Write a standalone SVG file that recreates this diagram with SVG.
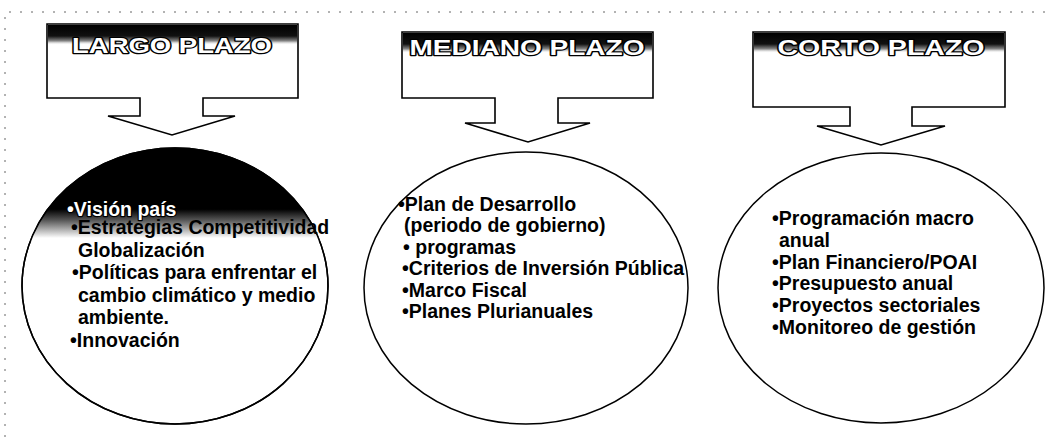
<svg xmlns="http://www.w3.org/2000/svg" width="1045" height="437" viewBox="0 0 1045 437">
<style>
.shape{fill:#fff;stroke:#000;stroke-width:1.6;stroke-linejoin:miter}
.oval{fill:#fff;stroke:#000;stroke-width:1.5}
.hdr{font-family:"Liberation Sans",Arial,sans-serif;font-weight:bold;font-size:22px;fill:#fff;stroke:#000;stroke-width:2.6;paint-order:stroke fill;stroke-linejoin:round}
.body{font-family:"Liberation Sans",Arial,sans-serif;font-weight:bold;font-size:19.5px;fill:#000}
.inv{fill:#fff;stroke:#000;stroke-width:2.4;paint-order:stroke fill;stroke-linejoin:round}
.frame{fill:none;stroke:#666;stroke-width:1;stroke-dasharray:2 9}
</style>
<defs>
<linearGradient id="band" x1="0" y1="0" x2="0" y2="1">
<stop offset="0" stop-color="#000"/>
<stop offset="0.55" stop-color="#111"/>
<stop offset="0.8" stop-color="#888"/>
<stop offset="1" stop-color="#fff" stop-opacity="0"/>
</linearGradient>
<linearGradient id="cap" gradientUnits="userSpaceOnUse" x1="0" y1="148" x2="0" y2="238">
<stop offset="0" stop-color="#000"/>
<stop offset="0.68" stop-color="#000"/>
<stop offset="0.8" stop-color="#555"/>
<stop offset="1" stop-color="#fff"/>
</linearGradient>
<clipPath id="clip1"><ellipse cx="175" cy="286" rx="153" ry="138"/></clipPath>
</defs>

<path class="frame" d="M5 437 V12 H1045"/>

<g id="connectors"></g>

<g id="largo">
<path class="shape" d="M47 24 H298 V98 H203 V116 H235 L172 135 L108 116 H140 V98 H47 Z"/>
<rect x="48" y="25" width="249" height="20" fill="url(#band)"/>
<text class="hdr" x="172" y="53" text-anchor="middle" textLength="200" lengthAdjust="spacingAndGlyphs">LARGO PLAZO</text>
</g>

<g id="mediano">
<path class="shape" d="M402 32 H653 V98 H558 V123 H590 L528 142 L465 123 H495 V98 H402 Z"/>
<rect x="403" y="33" width="249" height="20" fill="url(#band)"/>
<text class="hdr" x="527" y="55" text-anchor="middle" textLength="235" lengthAdjust="spacingAndGlyphs">MEDIANO PLAZO</text>
</g>

<g id="corto">
<path class="shape" d="M753 32 H1005 V107 H912 V126 H945 L881 145 L817 126 H850 V107 H753 Z"/>
<rect x="754" y="33" width="250" height="20" fill="url(#band)"/>
<text class="hdr" x="881" y="55" text-anchor="middle" textLength="207" lengthAdjust="spacingAndGlyphs">CORTO PLAZO</text>
</g>

<g id="oval-largo">
<ellipse class="oval" cx="175" cy="286" rx="153" ry="138"/>
<rect x="20" y="146" width="312" height="95" fill="url(#cap)" clip-path="url(#clip1)"/>
<ellipse cx="175" cy="286" rx="153" ry="138" fill="none" stroke="#000" stroke-width="1.5"/>
<text class="body inv" x="67" y="216">•Visión país</text>
<text class="body" x="71" y="234">•Estrategias Competitividad</text>
<text class="body" x="78" y="257">Globalización</text>
<text class="body" x="72" y="279">•Políticas para enfrentar el</text>
<text class="body" x="78" y="302">cambio climático y medio</text>
<text class="body" x="78" y="324">ambiente.</text>
<text class="body" x="70" y="347">•Innovación</text>
</g>

<g id="oval-mediano">
<ellipse class="oval" cx="526" cy="288" rx="162" ry="136"/>
<text class="body" x="398" y="211">•Plan de Desarrollo</text>
<text class="body" x="404" y="232">(periodo de gobierno)</text>
<text class="body" x="403" y="254">• programas</text>
<text class="body" x="402" y="275">•Criterios de Inversión Pública</text>
<text class="body" x="402" y="297">•Marco Fiscal</text>
<text class="body" x="402" y="318">•Planes Plurianuales</text>
</g>

<g id="oval-corto">
<ellipse class="oval" cx="881" cy="288" rx="163" ry="135"/>
<text class="body" x="772" y="225">•Programación macro</text>
<text class="body" x="779" y="247">anual</text>
<text class="body" x="772" y="269">•Plan Financiero/POAI</text>
<text class="body" x="772" y="290">•Presupuesto anual</text>
<text class="body" x="772" y="312">•Proyectos sectoriales</text>
<text class="body" x="772" y="334">•Monitoreo de gestión</text>
</g>
</svg>
